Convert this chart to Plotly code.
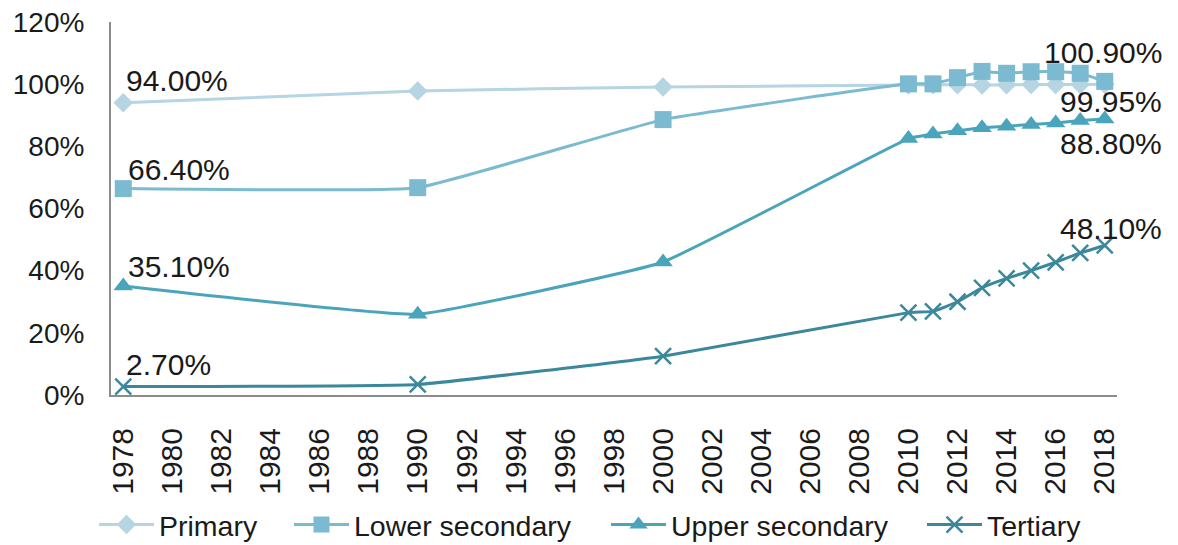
import plotly.graph_objects as go

# Gross enrolment rates by level of education (%)
years = [1978, 1990, 2000, 2010, 2011, 2012, 2013, 2014, 2015, 2016, 2017, 2018]
primary = [94.0, 97.8, 99.1, 99.7, 99.79, 99.85, 99.71, 99.81, 99.88, 99.92, 99.91, 99.95]
lower_secondary = [66.4, 66.7, 88.6, 100.1, 100.1, 102.1, 104.1, 103.5, 104.0, 104.0, 103.5, 100.9]
upper_secondary = [35.1, 26.0, 42.8, 82.5, 84.0, 85.0, 86.0, 86.5, 87.0, 87.5, 88.3, 88.8]
tertiary = [2.7, 3.4, 12.5, 26.5, 26.9, 30.0, 34.5, 37.5, 40.0, 42.7, 45.7, 48.1]

series_names = ["Primary", "Lower secondary", "Upper secondary", "Tertiary"]
series_values = [primary, lower_secondary, upper_secondary, tertiary]
colors = ["#B4D5E1", "#7BBAD0", "#4AA4BB", "#3B889C"]
symbols = ["diamond", "square", "triangle-up", "x-thin"]
marker_sizes = [15, 17, 17, 16]

# label offsets (px) for the first and last point of every series
start_shift = [(1, 22), (3, 19), (3, 19), (1, 22)]
end_shift = [(59, -17), (59, 29), (59, -25), (59, 17)]

# one legend box per series, placed along the bottom
legend_x = [94, 289, 606, 922]

FONT = "Liberation Sans, Arial, sans-serif"
TXT = "#1a1a1a"

PLOT_L, PLOT_R, PLOT_T, PLOT_B = 111, 1117, 22, 395
W, H = 1178, 545
plot_w = PLOT_R - PLOT_L
plot_h = PLOT_B - PLOT_T

fig = go.Figure()
annotations = []
for i, (name, vals, col, sym, ms) in enumerate(zip(series_names, series_values, colors,
                                                   symbols, marker_sizes)):
    marker = dict(symbol=sym, size=ms, color=col)
    if sym == "x-thin":
        marker["line"] = dict(color=col, width=2.5)
    legend_id = "legend" if i == 0 else f"legend{i + 1}"
    fig.add_trace(go.Scatter(
        x=years, y=vals, name=name,
        mode="lines+markers",
        line=dict(color=col, width=3, shape="spline", smoothing=0.3),
        marker=marker,
        legend=legend_id,
        cliponaxis=False,
    ))
    sx, sy = start_shift[i]
    annotations.append(dict(
        x=years[0], y=vals[0], xref="x", yref="y",
        text=f"{vals[0]:.2f}%", showarrow=False,
        xanchor="left", yanchor="middle", xshift=sx, yshift=sy,
        font=dict(family=FONT, size=30, color=TXT),
    ))
    ex, ey = end_shift[i]
    annotations.append(dict(
        x=years[-1], y=vals[-1], xref="x", yref="y",
        text=f"{vals[-1]:.2f}%", showarrow=False,
        xanchor="right", yanchor="middle", xshift=ex, yshift=ey,
        font=dict(family=FONT, size=30, color=TXT),
    ))

legend_style = dict(
    orientation="h", yanchor="middle", y=(PLOT_B - 525) / plot_h,
    xanchor="left",
    font=dict(family=FONT, size=28.5, color=TXT),
    itemwidth=55, bgcolor="rgba(0,0,0,0)",
)
layout_legends = {}
for i, px in enumerate(legend_x):
    key = "legend" if i == 0 else f"legend{i + 1}"
    layout_legends[key] = dict(legend_style, x=(px - PLOT_L) / plot_w)

fig.update_layout(
    width=W, height=H,
    margin=dict(l=PLOT_L, r=W - PLOT_R, t=PLOT_T, b=H - PLOT_B, autoexpand=False),
    paper_bgcolor="white", plot_bgcolor="white",
    font=dict(family=FONT, size=28, color=TXT),
    showlegend=True,
    annotations=annotations,
    **layout_legends,
)

fig.update_xaxes(
    range=[1977.5, 2018.5], tick0=1978, dtick=2,
    tickangle=-90, showgrid=False, zeroline=False, automargin=False,
    showline=True, linecolor="#8c8c8c", linewidth=2,
    ticks="", ticklabelstandoff=19,
    tickfont=dict(family=FONT, size=30, color=TXT),
)
fig.update_yaxes(
    range=[0, 120], dtick=20, ticksuffix="%",
    showgrid=False, zeroline=False, automargin=False,
    showline=True, linecolor="#8c8c8c", linewidth=2,
    ticks="", ticklabelstandoff=19,
    tickfont=dict(family=FONT, size=28, color=TXT),
)

fig.write_html("out.html")
